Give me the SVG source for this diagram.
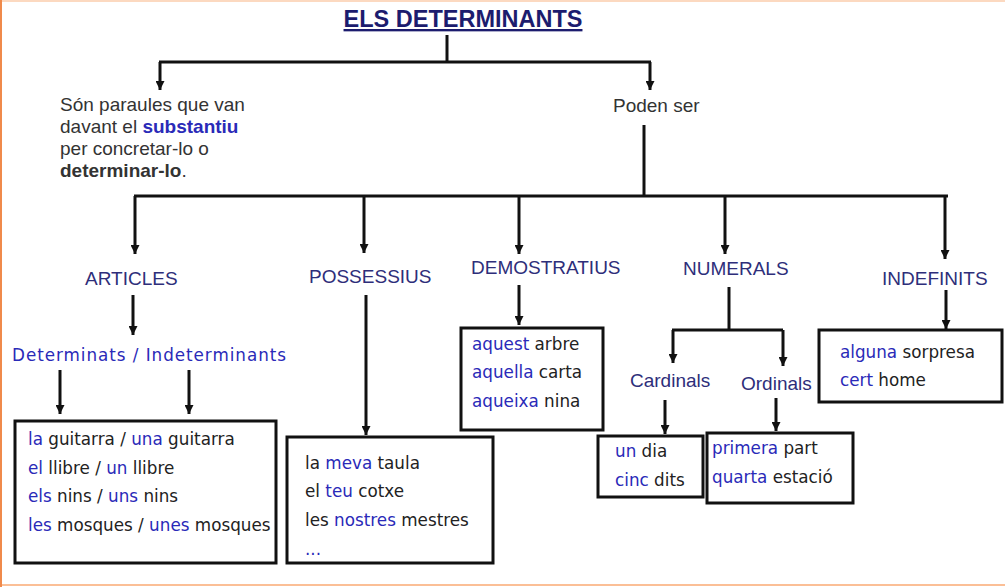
<svg xmlns="http://www.w3.org/2000/svg" width="1005" height="587" viewBox="0 0 1005 587">
<defs>
<marker id="arr" viewBox="0 0 10 10" refX="10" refY="5" markerWidth="10" markerHeight="9" markerUnits="userSpaceOnUse" orient="auto">
<path d="M0,0 L10,5 L0,10 Z" fill="#111"/>
</marker>
<style>
.ln{stroke:#111;stroke-width:3;fill:none}
.ar{stroke:#111;stroke-width:3;fill:none;marker-end:url(#arr)}
.box{stroke:#111;stroke-width:3;fill:#fff}
.ar-t{font-family:"Liberation Sans",Arial,sans-serif;font-size:19px;fill:#333}
.hd{font-family:"Liberation Sans",Arial,sans-serif;font-size:19px;fill:#2e2e7a}
.cm{font-family:"DejaVu Sans",sans-serif;font-size:16.8px;fill:#222}
.bl{fill:#2a2ab8}
.b{font-weight:bold}
</style>
</defs>
<rect x="0" y="0" width="1005" height="587" fill="#fff"/>
<line x1="0" y1="1" x2="1005" y2="1" stroke="#fcd9c0" stroke-width="2"/>
<line x1="0" y1="585" x2="1005" y2="585" stroke="#fbbf96" stroke-width="2"/>
<line x1="1" y1="0" x2="1" y2="587" stroke="#f08a4b" stroke-width="2"/>

<g id="connectors">
<polyline class="ln" points="447,35 447,62"/>
<line class="ln" x1="159" y1="62" x2="651" y2="62"/>
<polyline class="ar" points="160,62 160,90"/>
<polyline class="ar" points="650,62 650,90"/>
<line class="ln" x1="644" y1="125" x2="644" y2="196"/>
<line class="ln" x1="134" y1="196" x2="948" y2="196"/>
<polyline class="ar" points="135,196 135,254"/>
<polyline class="ar" points="364,196 364,253"/>
<polyline class="ar" points="519,196 519,254"/>
<polyline class="ar" points="725,196 725,254"/>
<polyline class="ar" points="945,196 945,259"/>
<polyline class="ar" points="133,295 133,335"/>
<polyline class="ar" points="60,370 60,414"/>
<polyline class="ar" points="189,370 189,414"/>
<polyline class="ar" points="366,295 366,435"/>
<polyline class="ar" points="519,285 519,325"/>
<line class="ln" x1="729" y1="287" x2="729" y2="330"/>
<polyline class="ln" points="672,330 783,330"/>
<polyline class="ar" points="673,330 673,363"/>
<polyline class="ar" points="783,330 783,366"/>
<polyline class="ar" points="665,400 665,434"/>
<polyline class="ar" points="776,398 776,431"/>
<polyline class="ar" points="946,290 946,329"/>
</g>

<g id="title">
<text x="463" y="27" text-anchor="middle" font-family="Liberation Sans,Arial,sans-serif" font-size="23.5" font-weight="bold" fill="#1c1c6e" text-decoration="underline">ELS DETERMINANTS</text>
</g>

<g id="definition">
<text class="ar-t" x="60" y="111">Són paraules que van</text>
<text class="ar-t" x="60" y="133">davant el <tspan class="bl b">substantiu</tspan></text>
<text class="ar-t" x="60" y="155">per concretar-lo o</text>
<text class="ar-t" x="60" y="177"><tspan class="b">determinar-lo</tspan>.</text>
</g>

<g id="poden-ser">
<text class="ar-t" x="613" y="112">Poden ser</text>
</g>

<g id="articles">
<text class="hd" x="85" y="285">ARTICLES</text>
</g>
<g id="possessius">
<text class="hd" x="309" y="283">POSSESSIUS</text>
</g>
<g id="demostratius">
<text class="hd" x="471" y="274">DEMOSTRATIUS</text>
</g>
<g id="numerals">
<text class="hd" x="683" y="275">NUMERALS</text>
</g>
<g id="indefinits">
<text class="hd" x="882" y="285">INDEFINITS</text>
</g>

<g id="det-indet">
<text class="cm bl" x="12" y="361" font-size="17.5" textLength="274">Determinats / Indeterminants</text>
</g>

<g id="box-articles">
<rect class="box" x="15" y="421" width="261" height="142"/>
<text class="cm" x="28" y="445"><tspan class="bl">la</tspan> guitarra / <tspan class="bl">una</tspan> guitarra</text>
<text class="cm" x="28" y="474"><tspan class="bl">el</tspan> llibre / <tspan class="bl">un</tspan> llibre</text>
<text class="cm" x="28" y="502"><tspan class="bl">els</tspan> nins / <tspan class="bl">uns</tspan> nins</text>
<text class="cm" x="28" y="531"><tspan class="bl">les</tspan> mosques / <tspan class="bl">unes</tspan> mosques</text>
</g>

<g id="box-possessius">
<rect class="box" x="287" y="437" width="206" height="126"/>
<text class="cm" x="305" y="469">la <tspan class="bl">meva</tspan> taula</text>
<text class="cm" x="305" y="497">el <tspan class="bl">teu</tspan> cotxe</text>
<text class="cm" x="305" y="526">les <tspan class="bl">nostres</tspan> mestres</text>
<text class="cm bl" x="305" y="555">...</text>
</g>

<g id="box-demostratius">
<rect class="box" x="461" y="328" width="142" height="102"/>
<text class="cm" x="472" y="350"><tspan class="bl">aquest</tspan> arbre</text>
<text class="cm" x="472" y="378"><tspan class="bl">aquella</tspan> carta</text>
<text class="cm" x="472" y="407"><tspan class="bl">aqueixa</tspan> nina</text>
</g>

<g id="cardinals">
<text class="hd" x="630" y="387">Cardinals</text>
</g>
<g id="ordinals">
<text class="hd" x="741" y="390">Ordinals</text>
</g>

<g id="box-cardinals">
<rect class="box" x="598" y="436" width="105" height="61"/>
<text class="cm" x="615" y="457"><tspan class="bl">un</tspan> dia</text>
<text class="cm" x="615" y="486"><tspan class="bl">cinc</tspan> dits</text>
</g>

<g id="box-ordinals">
<rect class="box" x="707" y="433" width="146" height="70"/>
<text class="cm" x="712" y="454"><tspan class="bl">primera</tspan> part</text>
<text class="cm" x="712" y="483"><tspan class="bl">quarta</tspan> estació</text>
</g>

<g id="box-indefinits">
<rect class="box" x="819" y="330" width="183" height="72"/>
<text class="cm" x="840" y="358"><tspan class="bl">alguna</tspan> sorpresa</text>
<text class="cm" x="840" y="386"><tspan class="bl">cert</tspan> home</text>
</g>
</svg>
